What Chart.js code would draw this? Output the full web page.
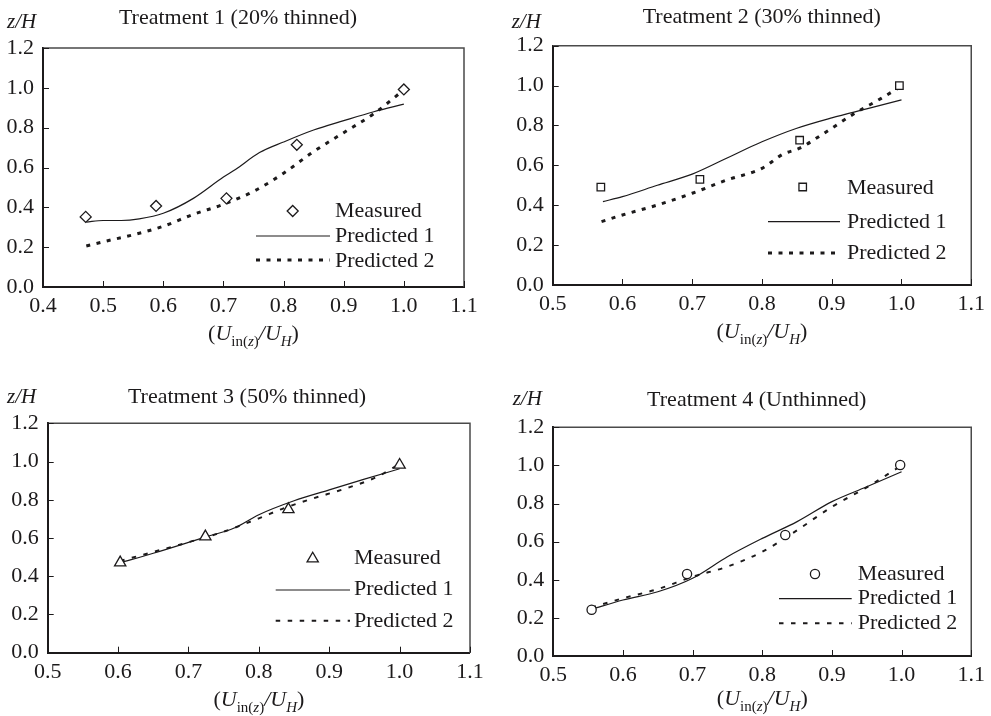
<!DOCTYPE html>
<html>
<head>
<meta charset="utf-8">
<script src="https://cdn.jsdelivr.net/npm/chart.js@4/dist/chart.umd.min.js"></script>
<style>
html,body{margin:0;padding:0;background:#fff;}
#wrap{position:relative;width:991px;height:716px;overflow:hidden;background:#fff;}
#wrap canvas{position:absolute;left:0;top:0;}
</style>
</head>
<body>
<div id="wrap">
<canvas id="c1" width="991" height="716"></canvas>
<canvas id="c2" width="991" height="716"></canvas>
<canvas id="c3" width="991" height="716"></canvas>
<canvas id="c4" width="991" height="716"></canvas>
</div>
<script>
// ---------- tick labels ----------
const xTicksT1 = [0.4, 0.5, 0.6, 0.7, 0.8, 0.9, 1.0, 1.1];
const xTicksT234 = [0.5, 0.6, 0.7, 0.8, 0.9, 1.0, 1.1];
const yTicks = [0.0, 0.2, 0.4, 0.6, 0.8, 1.0, 1.2];
const seriesNames = ['Measured', 'Predicted 1', 'Predicted 2'];
const panelTitles = ['Treatment 1 (20% thinned)', 'Treatment 2 (30% thinned)', 'Treatment 3 (50% thinned)', 'Treatment 4 (Unthinned)'];
const yAxisLabel = 'z/H';

// ---------- Treatment 1 ----------
const t1MeasX = [0.471, 0.588, 0.705, 0.822, 1.0];
const t1MeasY = [0.352, 0.407, 0.445, 0.714, 0.992];
const t1P1X = [0.472, 0.5, 0.53, 0.56, 0.6, 0.65, 0.7, 0.72, 0.76, 0.8, 0.85, 0.9, 0.95, 1.0];
const t1P1Y = [0.326, 0.334, 0.334, 0.342, 0.37, 0.445, 0.552, 0.59, 0.675, 0.728, 0.788, 0.835, 0.88, 0.918];
const t1P2X = [0.472, 0.5, 0.55, 0.6, 0.65, 0.7, 0.75, 0.8, 0.85, 0.9, 0.95, 1.0];
const t1P2Y = [0.206, 0.227, 0.262, 0.305, 0.365, 0.415, 0.48, 0.571, 0.68, 0.775, 0.87, 0.99];

// ---------- Treatment 2 ----------
const t2MeasX = [0.569, 0.711, 0.854, 0.997];
const t2MeasY = [0.491, 0.53, 0.726, 1.0];
const t2P1X = [0.572, 0.6, 0.65, 0.7, 0.75, 0.8, 0.85, 0.9, 0.95, 1.0];
const t2P1Y = [0.418, 0.443, 0.5, 0.556, 0.637, 0.718, 0.786, 0.838, 0.883, 0.928];
const t2P2X = [0.57, 0.6, 0.65, 0.7, 0.75, 0.8, 0.83, 0.854, 0.885, 0.933, 0.971, 0.997];
const t2P2Y = [0.318, 0.351, 0.401, 0.46, 0.527, 0.585, 0.656, 0.686, 0.752, 0.861, 0.936, 0.991];

// ---------- Treatment 3 ----------
const t3MeasX = [0.603, 0.724, 0.842, 1.0];
const t3MeasY = [0.471, 0.607, 0.75, 0.982];
const t3P1X = [0.603, 0.65, 0.7, 0.724, 0.765, 0.8, 0.85, 0.9, 0.95, 1.0];
const t3P1Y = [0.47, 0.52, 0.577, 0.605, 0.652, 0.722, 0.795, 0.852, 0.908, 0.962];
const t3P2X = [0.603, 0.65, 0.7, 0.75, 0.8, 0.835, 0.878, 0.92, 0.966, 1.0];
const t3P2Y = [0.48, 0.527, 0.578, 0.633, 0.703, 0.755, 0.808, 0.855, 0.917, 0.987];

// ---------- Treatment 4 ----------
const t4MeasX = [0.555, 0.692, 0.833, 0.998];
const t4MeasY = [0.243, 0.43, 0.635, 1.002];
const t4P1X = [0.555, 0.6, 0.65, 0.7, 0.75, 0.8, 0.85, 0.9, 0.95, 1.0];
const t4P1Y = [0.245, 0.294, 0.337, 0.408, 0.521, 0.617, 0.705, 0.81, 0.888, 0.967];
const t4P2X = [0.555, 0.6, 0.65, 0.7, 0.75, 0.8, 0.85, 0.9, 0.95, 1.0];
const t4P2Y = [0.255, 0.303, 0.351, 0.416, 0.469, 0.547, 0.66, 0.783, 0.885, 1.0];

// ---------- styling / layout ----------
const INK = '#1c1a1b';
const FONT = '"Liberation Serif","Times New Roman",Times,serif';
const W = 991, H = 716;
const zip = (xs, ys) => xs.map((x, i) => ({x: x, y: ys[i]}));

const panels = [
  { id: 'c1', title: panelTitles[0], xt: xTicksT1, mx: t1MeasX, my: t1MeasY, p1x: t1P1X, p1y: t1P1Y, p2x: t1P2X, p2y: t1P2Y,
    marker: 'rectRot', mr: 5.5, dash: [4, 6.5], dashW: 3,
    area: {l: 43, r: 464, t: 48, b: 287}, titleC: [238, 24], zh: [7, 28], xTitleB: 340,
    leg: {mx: 292.7, my: 211, tx: 335, lx1: 256, lx2: 330, ly1: 236, ly2: 260, b: [217, 242, 267]} },
  { id: 'c2', title: panelTitles[1], xt: xTicksT234, mx: t2MeasX, my: t2MeasY, p1x: t2P1X, p1y: t2P1Y, p2x: t2P2X, p2y: t2P2Y,
    marker: 'rect', mr: 5.3, dash: [4, 6.5], dashW: 3,
    area: {l: 552.7, r: 974, t: 45.7, b: 285}, titleC: [761.7, 23], zh: [511.7, 28], xTitleB: 338,
    leg: {mx: 802.7, my: 187, tx: 847, lx1: 768, lx2: 840, ly1: 221.7, ly2: 253, b: [194, 228, 259]} },
  { id: 'c3', title: panelTitles[2], xt: xTicksT234, mx: t3MeasX, my: t3MeasY, p1x: t3P1X, p1y: t3P1Y, p2x: t3P2X, p2y: t3P2Y,
    marker: 'triangle', mr: 6.5, dash: [4.5, 7.5], dashW: 2,
    area: {l: 47.7, r: 470, t: 423.3, b: 652.7}, titleC: [247, 403], zh: [7, 403], xTitleB: 706,
    leg: {mx: 312.7, my: 558.7, tx: 354, lx1: 275.7, lx2: 350, ly1: 590, ly2: 620.7, b: [564, 595.3, 626.7]} },
  { id: 'c4', title: panelTitles[3], xt: xTicksT234, mx: t4MeasX, my: t4MeasY, p1x: t4P1X, p1y: t4P1Y, p2x: t4P2X, p2y: t4P2Y,
    marker: 'circle', mr: 4.6, dash: [4.5, 7.5], dashW: 2,
    area: {l: 553.3, r: 973.3, t: 427.3, b: 656}, titleC: [756.7, 406], zh: [512.7, 405], xTitleB: 705,
    leg: {mx: 815, my: 574, tx: 857.7, lx1: 779, lx2: 851.7, ly1: 598.7, ly2: 623.3, b: [580, 604, 629.3]} }
];

function drawRuns(ctx, runs, cx, baseline) {
  let total = 0;
  runs.forEach(r => { ctx.font = r.f; r.w = ctx.measureText(r.t).width; total += r.w; });
  let x = cx - total / 2;
  runs.forEach(r => { ctx.font = r.f; ctx.fillText(r.t, x, baseline + (r.dy || 0)); x += r.w; });
}

function drawMarker(ctx, style, r, x, y) {
  if (window.Chart && Chart.helpers && Chart.helpers.drawPoint) {
    Chart.helpers.drawPoint(ctx, {pointStyle: style, radius: r, borderWidth: 1.3, rotation: 0}, x, y);
    return;
  }
  ctx.beginPath();
  ctx.arc(x, y, r, 0, Math.PI * 2);
  ctx.fill(); ctx.stroke();
}

function makeDecor(p) {
  return {
    id: 'decor_' + p.id,
    afterDraw(chart) {
      const ctx = chart.ctx, a = chart.chartArea;
      const xs = chart.scales.x, ys = chart.scales.y;
      ctx.save();
      // top & right frame
      ctx.strokeStyle = '#4a4a4a';
      ctx.lineWidth = 1.5;
      ctx.beginPath();
      ctx.moveTo(a.left, a.top); ctx.lineTo(a.right, a.top); ctx.lineTo(a.right, a.bottom);
      ctx.stroke();
      // inward tick marks
      ctx.strokeStyle = INK;
      ctx.lineWidth = 1;
      ctx.beginPath();
      xs.ticks.forEach(t => {
        const px = Math.round(xs.getPixelForValue(t.value)) + 0.5;
        ctx.moveTo(px, a.bottom); ctx.lineTo(px, a.bottom - 6);
      });
      ys.ticks.forEach(t => {
        const py = Math.round(ys.getPixelForValue(t.value)) + 0.5;
        ctx.moveTo(a.left, py); ctx.lineTo(a.left + 6, py);
      });
      ctx.stroke();

      ctx.fillStyle = INK;
      ctx.textAlign = 'left';
      ctx.textBaseline = 'alphabetic';
      // panel title
      ctx.font = '22px ' + FONT;
      ctx.textAlign = 'center';
      ctx.fillText(p.title, p.titleC[0], p.titleC[1]);
      // y-axis label
      ctx.textAlign = 'left';
      ctx.font = 'italic 21px ' + FONT;
      ctx.fillText(yAxisLabel, p.zh[0], p.zh[1]);
      // x-axis title (U_in(z)/U_H)
      const big = '22px ' + FONT, bigI = 'italic 22px ' + FONT;
      const sm = '15px ' + FONT, smI = 'italic 15px ' + FONT;
      drawRuns(ctx, [
        {t: '(', f: big}, {t: 'U', f: bigI},
        {t: 'in(', f: sm, dy: 6}, {t: 'z', f: smI, dy: 6}, {t: ')', f: sm, dy: 6},
        {t: '/', f: bigI}, {t: 'U', f: bigI}, {t: 'H', f: smI, dy: 6}, {t: ')', f: big}
      ], (a.left + a.right) / 2, p.xTitleB);

      // legend
      const L = p.leg;
      ctx.fillStyle = '#fff';
      ctx.strokeStyle = INK;
      ctx.lineWidth = 1.3;
      ctx.setLineDash([]);
      drawMarker(ctx, p.marker, p.mr, L.mx, L.my);
      ctx.lineWidth = 1.2;
      ctx.beginPath(); ctx.moveTo(L.lx1, L.ly1); ctx.lineTo(L.lx2, L.ly1); ctx.stroke();
      ctx.lineWidth = p.dashW;
      ctx.setLineDash(p.dash);
      ctx.beginPath(); ctx.moveTo(L.lx1, L.ly2); ctx.lineTo(L.lx2, L.ly2); ctx.stroke();
      ctx.setLineDash([]);
      ctx.fillStyle = INK;
      ctx.font = '22px ' + FONT;
      ctx.textAlign = 'left';
      seriesNames.forEach((n, i) => ctx.fillText(n, L.tx, L.b[i]));
      ctx.restore();
    }
  };
}

panels.forEach(p => {
  const axisW = 40, axisH = 40;
  const tickFont = {family: FONT, size: 22};
  new Chart(document.getElementById(p.id), {
    type: 'scatter',
    data: {
      datasets: [
        { label: seriesNames[0], data: zip(p.mx, p.my), showLine: false,
          pointStyle: p.marker, pointRadius: p.mr, pointBackgroundColor: '#fff',
          pointBorderColor: INK, pointBorderWidth: 1.3 },
        { label: seriesNames[1], data: zip(p.p1x, p.p1y), showLine: true, pointRadius: 0,
          borderColor: INK, borderWidth: 1.2, cubicInterpolationMode: 'monotone', fill: false },
        { label: seriesNames[2], data: zip(p.p2x, p.p2y), showLine: true, pointRadius: 0,
          borderColor: INK, borderWidth: p.dashW, borderDash: p.dash, borderCapStyle: 'butt',
          cubicInterpolationMode: 'monotone', fill: false }
      ]
    },
    options: {
      responsive: false,
      animation: false,
      devicePixelRatio: 1,
      events: [],
      layout: {
        autoPadding: false,
        padding: { left: p.area.l - axisW, right: W - p.area.r, top: p.area.t, bottom: H - p.area.b - axisH }
      },
      plugins: { legend: {display: false}, title: {display: false}, tooltip: {enabled: false} },
      scales: {
        x: {
          type: 'linear', min: p.xt[0], max: p.xt[p.xt.length - 1],
          afterBuildTicks: s => { s.ticks = p.xt.map(v => ({value: v})); },
          afterFit: s => { s.height = axisH; },
          grid: {display: false, drawTicks: false},
          border: {display: true, color: INK, width: 2},
          ticks: {padding: 6, color: INK, font: tickFont, autoSkip: false, maxRotation: 0,
                  callback: v => Number(v).toFixed(1)}
        },
        y: {
          type: 'linear', min: yTicks[0], max: yTicks[yTicks.length - 1],
          afterBuildTicks: s => { s.ticks = yTicks.map(v => ({value: v})); },
          afterFit: s => { s.width = axisW; },
          grid: {display: false, drawTicks: false},
          border: {display: true, color: INK, width: 2},
          ticks: {padding: 9, color: INK, font: tickFont, autoSkip: false,
                  callback: v => Number(v).toFixed(1)}
        }
      }
    },
    plugins: [makeDecor(p)]
  });
});
</script>
</body>
</html>
